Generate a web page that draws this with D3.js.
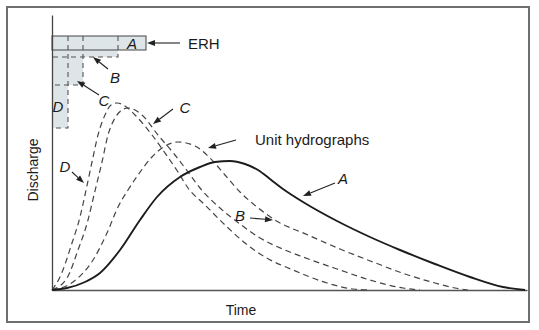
<!DOCTYPE html>
<html>
<head>
<meta charset="utf-8">
<script src="https://cdn.jsdelivr.net/npm/d3@7"></script>
<style>
  html, body { margin: 0; padding: 0; background: #fff; }
  svg { display: block; }
  text { font-family: "Liberation Sans", Arial, Helvetica, sans-serif; fill: #1a1a1a; }
</style>
</head>
<body>
<script>
// Unit hydrographs of one catchment for four durations of effective rainfall (A longest, D shortest)
const timeA = [0, 3, 6.6, 9.6, 13.6, 17.6, 21, 25.6, 29.6, 32.6, 35.6, 38.6, 41.2, 43.6, 46.2, 50.2, 57, 63.6, 69.6, 76.6, 83.6, 90.2, 94.6];
const flowA = [0, 0.8, 3.2, 6.8, 16, 28, 37.2, 45.2, 49.2, 51.2, 51.6, 50.4, 48, 44.4, 40.4, 35.2, 27.6, 21.2, 16, 10.4, 5.2, 1.2, 0];

const timeB = [0, 4.2, 8.2, 11, 13.2, 15.2, 17.2, 20, 22.6, 25.2, 28.6, 31.6, 34.6, 37.6, 41, 44.6, 51.2, 57.6, 64.2, 70.6, 76.6, 80.6, 83.2];
const flowB = [0, 3.2, 12, 22.8, 33.2, 40, 46, 53.2, 57.6, 59.2, 57.6, 52.8, 46, 39.2, 33.2, 28, 22, 16.4, 11.2, 6.4, 2.8, 0.8, 0];

const timeC = [0, 3, 5.2, 7.2, 8.4, 10, 11.2, 12.6, 14, 15.2, 18, 21.2, 24.6, 27.2, 29.6, 33.6, 37.6, 41.6, 46.6, 50.2, 57, 63.6, 70.2, 73.6];
const flowC = [0, 4.8, 16, 28, 38, 51.2, 62, 68.8, 72, 72.8, 70, 62, 54, 47.2, 40.8, 32.8, 26.4, 20.8, 16, 13.2, 8.4, 4, 0.8, 0];

const timeD = [0, 1.6, 4, 5.6, 6.6, 8, 9.2, 10.6, 11.8, 13, 14.6, 16.6, 20, 22.6, 25.2, 27.2, 30.6, 34.6, 38.6, 42.6, 48.2, 55, 60.2, 63.2];
const flowD = [0, 5.2, 18.8, 29.2, 38, 51.2, 62, 70, 74, 74.8, 73.6, 70, 62, 54.8, 47.2, 40.8, 34, 26, 18.8, 13.2, 8, 2.8, 0.4, 0];

// Effective rainfall hyetographs (ERH): equal depth, different durations and intensities
const erhNames = ["D", "C", "B", "A"];
const erhDuration = [3.2, 6.2, 13.2, 18.8];
const erhIntensity = [36.8, 19.6, 8.4, 5.6];

// Annotation labels: text, position (time, discharge)
const labelText = ["A", "B", "C", "D", "C", "D", "A", "B"];
const labelT = [16, 12.6, 10.4, 1.2, 26.6, 2.6, 58.2, 37.6];
const labelQ = [98.8, 85.2, 76, 73.6, 73.2, 49.6, 44.8, 30];

// Pointer arrows: from (t0,q0) to (t1,q1)
const arrowT0 = [25.6, 11.2, 9.4, 24.2, 4, 36.8, 56.6, 39.6];
const arrowQ0 = [98.8, 88.4, 78, 72.4, 47.2, 60, 42.8, 28.8];
const arrowT1 = [19, 8.2, 5, 20.2, 6.4, 31.2, 50.2, 44.2];
const arrowQ1 = [98.8, 93.2, 83.6, 66.4, 42.8, 56.8, 37.6, 28];

const W = 539, H = 330;
const svg = d3.select("body").append("svg").attr("width", W).attr("height", H);

// frame around the figure
svg.append("rect")
  .attr("x", 7).attr("y", 7).attr("width", 522).attr("height", 315)
  .attr("fill", "#fff").attr("stroke", "#6f6f6f").attr("stroke-width", 2);

const x = d3.scaleLinear().domain([0, 95]).range([52, 527]);
const y = d3.scaleLinear().domain([0, 110]).range([290, 15]);
// rainfall intensity hangs downward from the top of the hyetograph
const r = d3.scaleLinear().domain([0, 40]).range([36, 136]);

// hyetograph blocks
const erh = erhNames.map((n, i) => ({ name: n, dur: erhDuration[i], int: erhIntensity[i] }));
const gR = svg.append("g");
gR.selectAll("rect.fill").data(erh).join("rect")
  .attr("class", "fill")
  .attr("x", x(0)).attr("y", r(0))
  .attr("width", d => x(d.dur) - x(0))
  .attr("height", d => r(d.int) - r(0))
  .attr("fill", "#dde5e9");

// dashed outlines of the shorter-duration blocks (right and bottom edges)
const dashed = erh.filter(d => d.name !== "A");
gR.selectAll("path.edge").data(dashed).join("path")
  .attr("class", "edge")
  .attr("d", d => `M${x(d.dur)},${r(0)}V${r(d.int)}H${x(0)}`)
  .attr("fill", "none").attr("stroke", "#555").attr("stroke-width", 1.1)
  .attr("stroke-dasharray", "5,4");

// solid outline of block A
const a = erh.find(d => d.name === "A");
gR.append("rect")
  .attr("x", x(0)).attr("y", r(0))
  .attr("width", x(a.dur) - x(0)).attr("height", r(a.int) - r(0))
  .attr("fill", "none").attr("stroke", "#555").attr("stroke-width", 1.1);

// axes without ticks
svg.append("g").attr("transform", `translate(${x(0)},0)`)
  .call(d3.axisLeft(y).ticks(0).tickSizeOuter(0))
  .select(".domain").attr("stroke", "#444").attr("stroke-width", 1.3);
svg.append("g").attr("transform", `translate(0,${y(0)})`)
  .call(d3.axisBottom(x).ticks(0).tickSizeOuter(0))
  .select(".domain").attr("stroke", "#555").attr("stroke-width", 1.6);

// hydrograph curves
const series = [
  { t: timeD, q: flowD, dash: true },
  { t: timeC, q: flowC, dash: true },
  { t: timeB, q: flowB, dash: true },
  { t: timeA, q: flowA, dash: false }
];
const line = d3.line()
  .x(d => x(d[0])).y(d => y(d[1]))
  .curve(d3.curveMonotoneX);
svg.append("g").selectAll("path").data(series).join("path")
  .attr("d", s => line(s.t.map((t, i) => [t, s.q[i]])))
  .attr("fill", "none")
  .attr("stroke", s => s.dash ? "#444" : "#1c1c1c")
  .attr("stroke-width", s => s.dash ? 1.2 : 1.9)
  .attr("stroke-dasharray", s => s.dash ? "6,4" : null);

// arrows
const arrows = arrowT0.map((t, i) => ({ x0: x(t), y0: y(arrowQ0[i]), x1: x(arrowT1[i]), y1: y(arrowQ1[i]) }));
const gA = svg.append("g");
arrows.forEach(d => {
  const ang = Math.atan2(d.y1 - d.y0, d.x1 - d.x0);
  const L = 8, Wd = 3;
  const bx = d.x1 - L * Math.cos(ang), by = d.y1 - L * Math.sin(ang);
  gA.append("line")
    .attr("x1", d.x0).attr("y1", d.y0).attr("x2", bx).attr("y2", by)
    .attr("stroke", "#222").attr("stroke-width", 1.1);
  const px = -Math.sin(ang) * Wd, py = Math.cos(ang) * Wd;
  gA.append("path")
    .attr("d", `M${d.x1},${d.y1}L${bx + px},${by + py}L${bx - px},${by - py}Z`)
    .attr("fill", "#222");
});

// italic letter labels
svg.append("g").selectAll("text").data(labelText).join("text")
  .attr("x", (d, i) => x(labelT[i])).attr("y", (d, i) => y(labelQ[i]))
  .attr("text-anchor", "middle").attr("dominant-baseline", "central")
  .attr("font-size", 15).attr("font-style", "italic")
  .text(d => d);

// other text
svg.append("text").attr("x", x(27.2)).attr("y", y(98.8))
  .attr("dominant-baseline", "central").attr("font-size", 15).text("ERH");
svg.append("text").attr("x", x(40.6)).attr("y", y(58))
  .attr("font-size", 15).text("Unit hydrographs");
svg.append("text").attr("x", 241).attr("y", 315)
  .attr("text-anchor", "middle").attr("font-size", 14).text("Time");
svg.append("text").attr("transform", "translate(38,170) rotate(-90)")
  .attr("text-anchor", "middle").attr("font-size", 14).text("Discharge");
</script>
</body>
</html>
